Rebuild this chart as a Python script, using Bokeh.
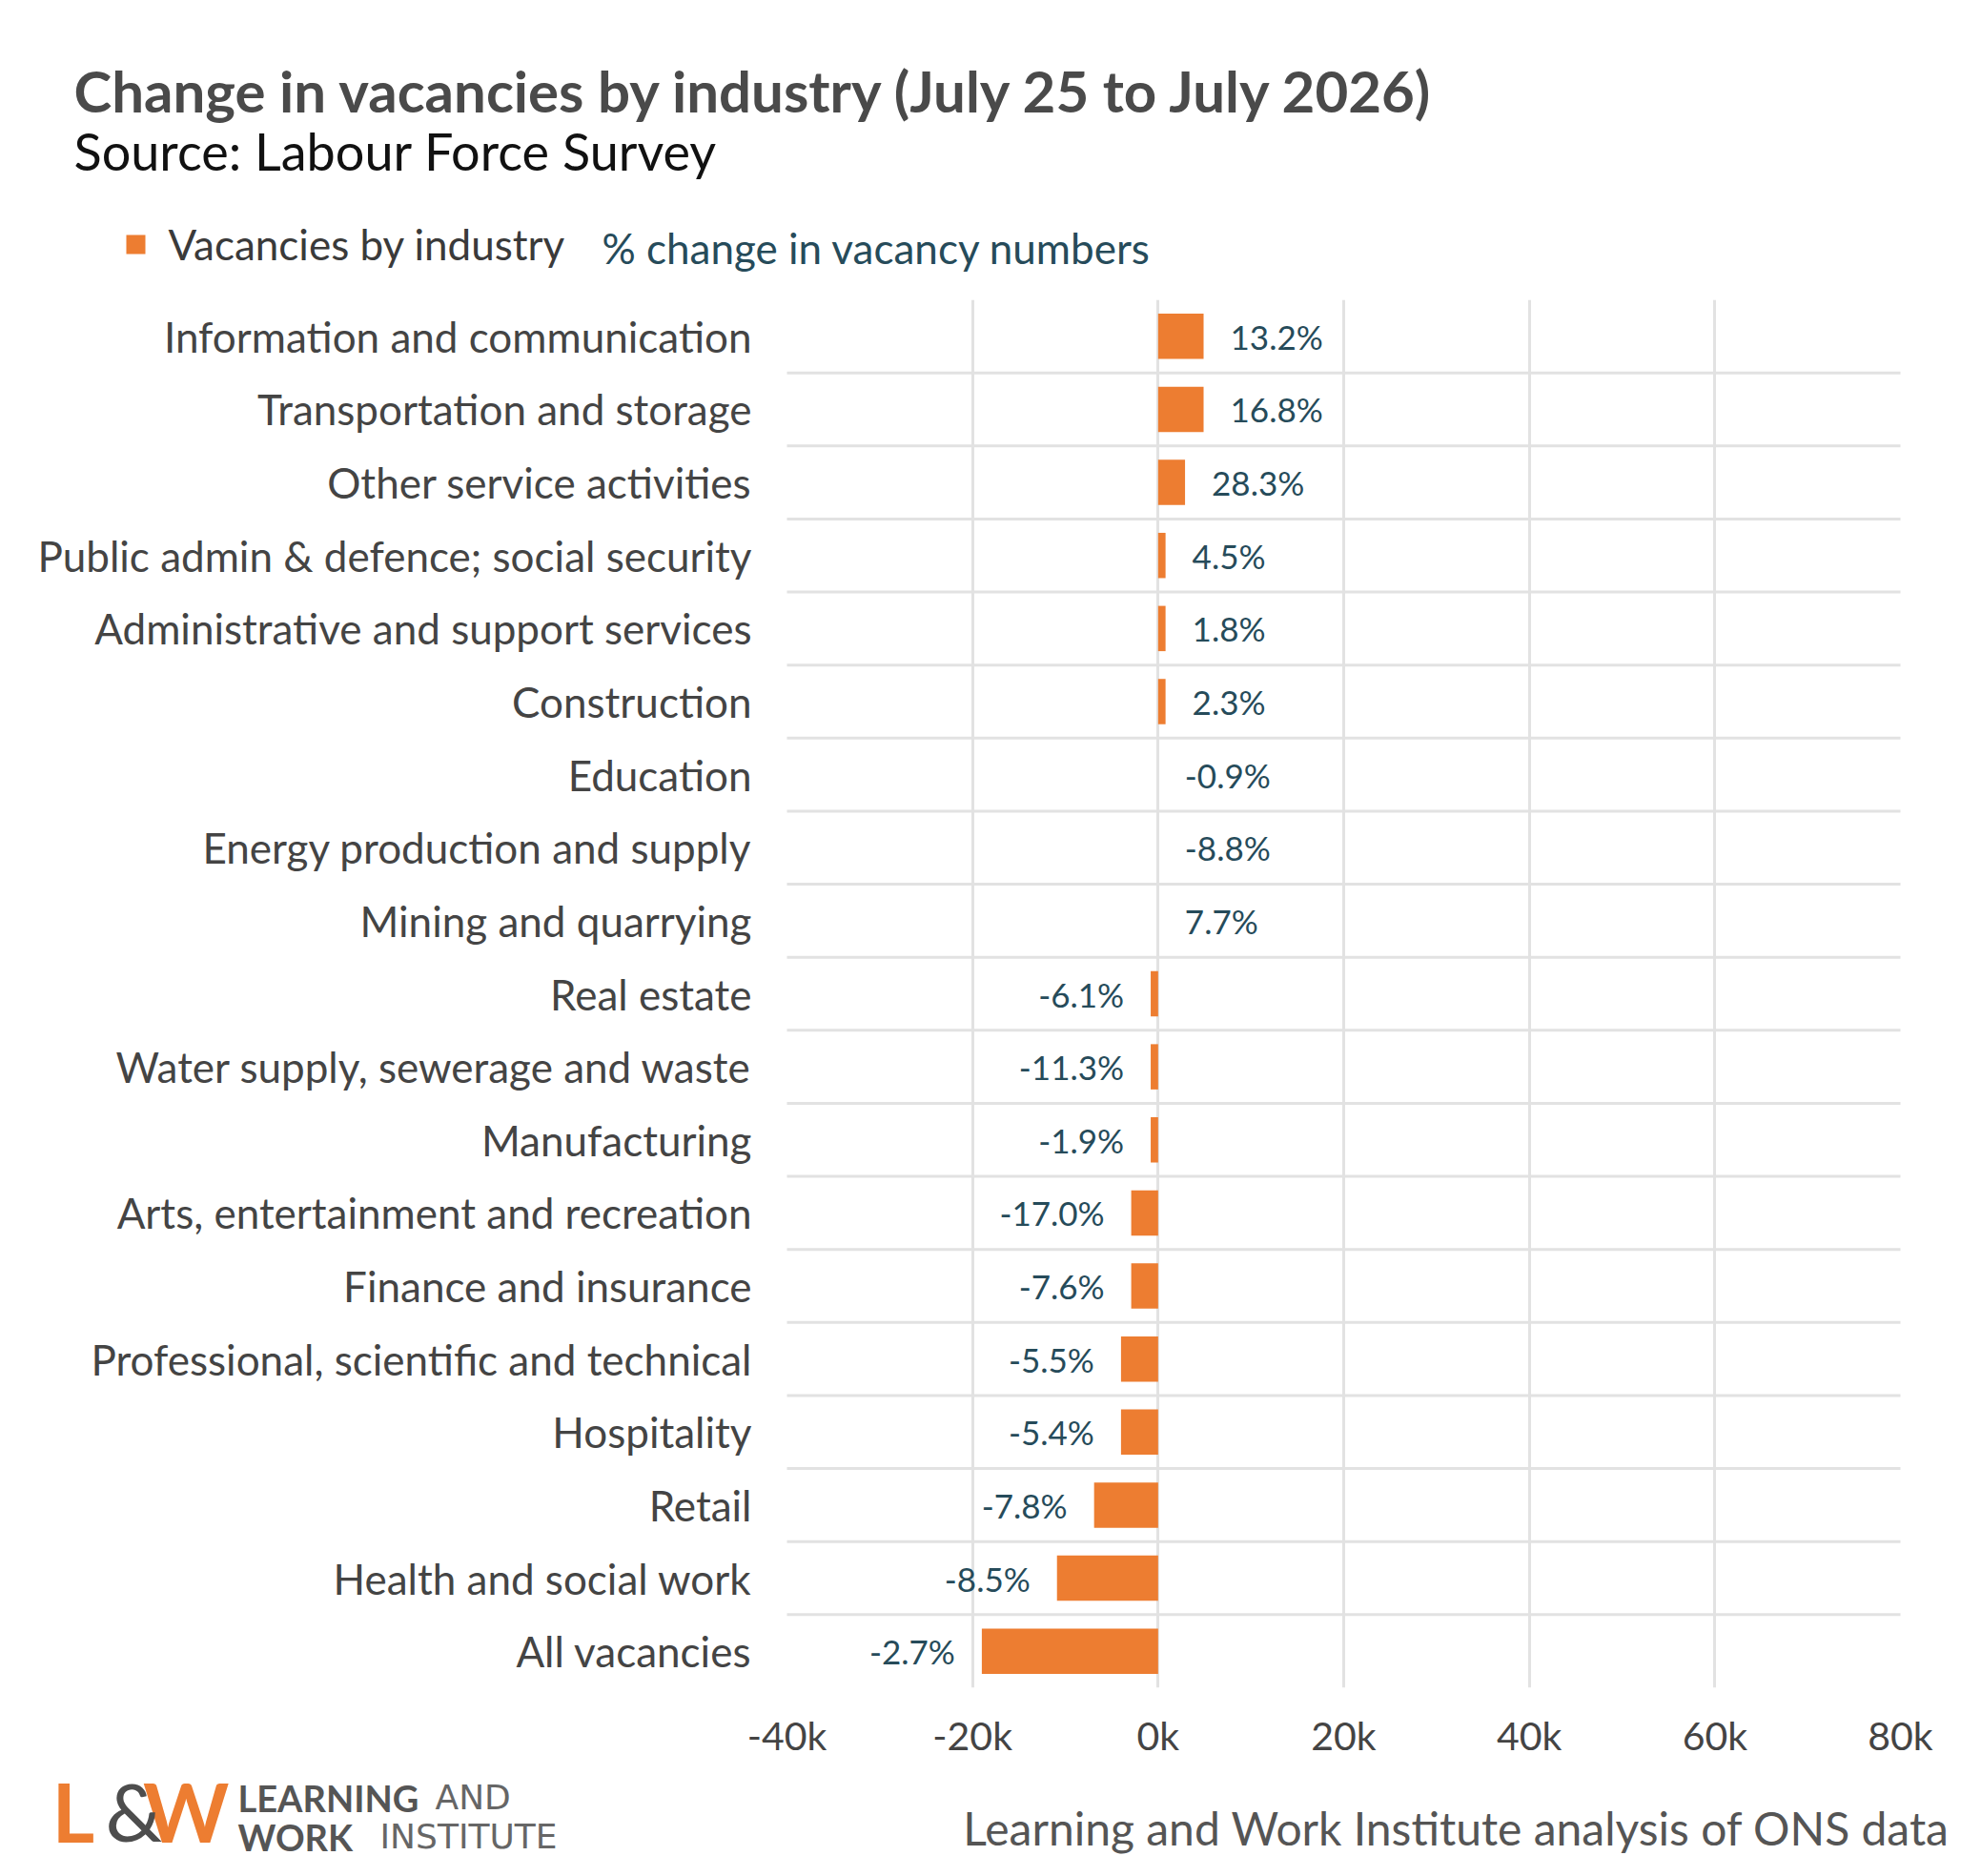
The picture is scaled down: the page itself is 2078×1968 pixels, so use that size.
from bokeh.plotting import figure
from bokeh.models import ColumnDataSource, Range1d, FixedTicker, Label
from bokeh.layouts import column
from bokeh.embed import file_html
from bokeh.resources import INLINE

# data (top row first)
industries = [
    "Information and communication",
    "Transportation and storage",
    "Other service activities",
    "Public admin & defence; social security",
    "Administrative and support services",
    "Construction",
    "Education",
    "Energy production and supply",
    "Mining and quarrying",
    "Real estate",
    "Water supply, sewerage and waste",
    "Manufacturing",
    "Arts, entertainment and recreation",
    "Finance and insurance",
    "Professional, scientific and technical",
    "Hospitality",
    "Retail",
    "Health and social work",
    "All vacancies",
]
vacancy_change = [4900, 4900, 2900, 800, 800, 800, 0, 0, 0,
                  -800, -800, -800, -2900, -2900, -4000, -4000, -6900, -10900, -19000]
pct_change = [13.2, 16.8, 28.3, 4.5, 1.8, 2.3, -0.9, -8.8, 7.7,
              -6.1, -11.3, -1.9, -17.0, -7.6, -5.5, -5.4, -7.8, -8.5, -2.7]
x_ticks = [-40000, -20000, 0, 20000, 40000, 60000, 80000]
x_tick_labels = ["-40k", "-20k", "0k", "20k", "40k", "60k", "80k"]

FONT = "Lato"
ORANGE = "#ED7D31"
TEAL = "#264B5A"
GRID = "#E2E2E2"
W = 2062
HEAD_H = 314
MAIN_H = 1533
FOOT_H = 104
PX_LEFT, PX_RIGHT = 825, 1993  # where -40k and 80k sit across the page


def blank(height):
    # a figure whose frame is the whole canvas, data units = pixels from top-left
    f = figure(width=W, height=height, output_backend="svg", toolbar_location=None,
               x_range=Range1d(0, W), y_range=Range1d(height, 0),
               x_axis_location=None, y_axis_location=None,
               min_border_left=0, min_border_right=0, min_border_top=0, min_border_bottom=0)
    f.grid.visible = False
    f.outline_line_color = None
    return f


def add_label(f, text, x, y, size, color, style="normal", align="left", font=FONT):
    f.add_layout(Label(x=x, y=y, text=text, text_font=font, text_font_size=size,
                       text_color=color, text_font_style=style,
                       text_align=align, text_baseline="middle"))


# ---- header: title, subtitle, key
head = blank(HEAD_H)
add_label(head, "Change in vacancies by industry (July 25 to July 2026)", 77, 94, "60px", "#4A4A4A", style="bold")
add_label(head, "Source: Labour Force Survey", 77, 158, "54px", "#111111")
head.rect(x=[142], y=[256], width=20, height=20, fill_color=ORANGE, line_color=None)
add_label(head, "Vacancies by industry", 176, 255, "44px", "#3A3A3A")
add_label(head, "% change in vacancy numbers", 631, 259, "44px", TEAL)

# ---- main chart
n = len(industries)
ypos = [n - 1 - i for i in range(n)]
labels = [f"{v:.1f}%" for v in pct_change]

src = ColumnDataSource(data=dict(y=ypos, val=vacancy_change, name=industries, pct=labels))
pos_src = ColumnDataSource(data=dict(
    y=[y for y, v in zip(ypos, vacancy_change) if v >= 0],
    val=[v for v in vacancy_change if v >= 0],
    pct=[l for l, v in zip(labels, vacancy_change) if v >= 0]))
neg_src = ColumnDataSource(data=dict(
    y=[y for y, v in zip(ypos, vacancy_change) if v < 0],
    val=[v for v in vacancy_change if v < 0],
    pct=[l for l, v in zip(labels, vacancy_change) if v < 0]))

# frame spans the full width; the category labels sit left of -40k
upp = (x_ticks[-1] - x_ticks[0]) / (PX_RIGHT - PX_LEFT)
x_range = Range1d(x_ticks[0] - PX_LEFT * upp, x_ticks[-1] + (W - PX_RIGHT) * upp)

p = figure(width=W, height=MAIN_H, output_backend="svg", toolbar_location=None,
           x_range=x_range, y_range=Range1d(-0.5, n - 0.5), y_axis_location=None,
           min_border_left=0, min_border_right=0, min_border_top=0, min_border_bottom=77)
p.outline_line_color = None
p.background_fill_color = "white"
p.border_fill_color = "white"

# vertical grid at the inner ticks
p.xgrid.ticker = FixedTicker(ticks=x_ticks[1:-1])
p.xgrid.grid_line_color = GRID
p.xgrid.grid_line_width = 3
p.ygrid.visible = False

# horizontal separators between rows, across the value axis only
sep = [i + 0.5 for i in range(n - 1)]
p.segment(x0=x_ticks[0], x1=x_ticks[-1], y0=sep, y1=sep, line_color=GRID, line_width=3)

p.hbar(y="y", left=0, right="val", height=0.62, source=src,
       fill_color=ORANGE, line_color=None)

# % change labels beside the bars
p.text(x="val", y="y", text="pct", source=pos_src, x_offset=28,
       text_align="left", text_baseline="middle", text_font_size="35px",
       text_color=TEAL, text_font={"value": FONT})
p.text(x="val", y="y", text="pct", source=neg_src, x_offset=-28,
       text_align="right", text_baseline="middle", text_font_size="35px",
       text_color=TEAL, text_font={"value": FONT})

# category labels
p.text(x=x_ticks[0], y="y", text="name", source=src, x_offset=-37,
       text_align="right", text_baseline="middle", text_font_size="44px",
       text_color="#444444", text_font={"value": FONT})

p.xaxis.ticker = FixedTicker(ticks=x_ticks)
p.xaxis.major_label_overrides = {t: l for t, l in zip(x_ticks, x_tick_labels)}
p.xaxis.axis_line_color = None
p.xaxis.major_tick_line_color = None
p.xaxis.minor_tick_line_color = None
p.xaxis.major_tick_out = 0
p.xaxis.major_label_standoff = 25
p.xaxis.major_label_text_font = FONT
p.xaxis.major_label_text_font_size = "41px"
p.xaxis.major_label_text_color = "#444444"

# ---- footer: logo and credit
foot = blank(FOOT_H)
add_label(foot, "L", 54, 52, "86px", ORANGE, style="bold")
add_label(foot, "W", 240, 52, "86px", ORANGE, style="bold", align="right")
add_label(foot, "&", 140, 52, "84px", "#4D4D4D", align="center")
add_label(foot, "LEARNING", 249, 38, "38px", "#555555", style="bold")
add_label(foot, "AND", 456, 38, "36px", "#666666", font="DejaVu Sans")
add_label(foot, "WORK", 249, 79, "38px", "#555555", style="bold")
add_label(foot, "INSTITUTE", 398, 79, "36px", "#666666", font="DejaVu Sans")
add_label(foot, "Learning and Work Institute analysis of ONS data", 2045, 70, "48px", "#555555", align="right")

layout = column(head, p, foot, spacing=0)
open("out.html", "w").write(file_html(layout, INLINE))
